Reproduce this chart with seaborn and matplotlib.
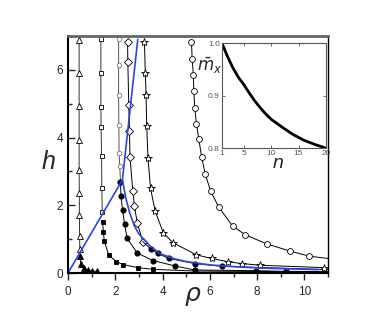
import numpy as np
import pandas as pd
import matplotlib
matplotlib.use('Agg')
import matplotlib.pyplot as plt
import seaborn as sns

# ---- data ----
tri_open_x = [0.50, 0.49, 0.48, 0.48, 0.47, 0.47, 0.47, 0.47, 0.47]
tri_open_h = [0.70, 1.10, 1.72, 2.37, 3.05, 3.94, 4.92, 5.90, 6.88]

tri_fill_x = [0.50, 0.55, 0.68, 0.85, 1.00, 1.23]
tri_fill_h = [0.50, 0.26, 0.14, 0.08, 0.06, 0.05]

sq_open_x = [1.45, 1.43, 1.42, 1.40, 1.39, 1.39, 1.39]
sq_open_h = [1.79, 2.50, 3.46, 4.30, 4.90, 5.90, 6.90]

sq_fill_x = [1.46, 1.50, 1.53, 1.72, 2.05, 2.34, 2.95, 3.59, 5.36, 11.0]
sq_fill_h = [1.52, 1.20, 0.96, 0.53, 0.33, 0.25, 0.16, 0.11, 0.06, 0.03]

circ_small_x = [2.22, 2.19, 2.16, 2.15, 2.14, 2.14, 2.14]
circ_small_h = [2.69, 3.15, 3.54, 4.38, 5.25, 6.13, 6.90]

dot_a_x = [2.22, 2.24, 2.31, 2.39, 2.50, 2.93, 3.59, 4.52, 5.36, 7.94, 9.20, 11.0]
dot_a_h = [2.69, 2.27, 1.85, 1.46, 1.02, 0.59, 0.37, 0.21, 0.09, 0.07, 0.05, 0.04]

diam_x = [2.52, 2.53, 2.57, 2.60, 2.62, 2.74, 2.81, 2.93, 3.16]
diam_h = [6.83, 6.23, 4.96, 4.19, 3.44, 2.42, 1.97, 1.48, 0.93]

dot_b_x = [3.16, 3.52, 3.80, 4.27, 5.36, 6.50, 11.0]
dot_b_h = [0.93, 0.70, 0.58, 0.43, 0.28, 0.20, 0.10]

star_x = [3.23, 3.27, 3.30, 3.33, 3.38, 3.49, 3.69, 4.03, 4.43, 5.42, 6.07,
          6.78, 7.35, 8.13, 10.82]
star_h = [6.83, 5.90, 5.27, 4.33, 3.41, 2.50, 1.82, 1.19, 0.90, 0.54, 0.43,
          0.33, 0.28, 0.23, 0.16]

circ_big_x = [5.22, 5.25, 5.30, 5.32, 5.36, 5.43, 5.53, 5.65, 5.80, 6.03, 6.38,
              6.96, 7.49, 8.41, 9.38, 10.19, 11.0]
circ_big_h = [6.83, 6.33, 5.85, 5.37, 4.88, 4.41, 3.96, 3.43, 2.93, 2.42, 1.94,
              1.39, 1.13, 0.86, 0.65, 0.50, 0.43]

blue_up_x = [0.0, 2.30, 2.95]
blue_up_h = [0.0, 2.75, 6.90]
blue_dn_x = [2.30, 2.45, 2.60, 2.80, 3.00, 3.20, 3.50, 3.90, 4.50, 5.00, 6.00,
             7.00, 8.00, 9.00, 10.60]
blue_dn_h = [2.75, 2.20, 1.80, 1.40, 1.15, 1.00, 0.78, 0.57, 0.42, 0.34, 0.24,
             0.19, 0.15, 0.13, 0.10]

inset_n = [1, 2, 3, 4, 5, 6, 7, 8, 9, 10, 12, 14, 16, 18, 20]
inset_m = [1.0, 0.975, 0.953, 0.935, 0.921, 0.905, 0.89, 0.877, 0.865, 0.855,
           0.84, 0.826, 0.815, 0.807, 0.80]

sns.set_style('ticks')
plt.rcParams['font.family'] = ['Liberation Sans', 'DejaVu Sans']

fig = plt.figure(figsize=(3.82, 3.27), dpi=100)
ax = fig.add_axes([0.178, 0.165, 0.681, 0.725])


def series(x, y, marker, face, edge='black', ms=4, lc='black', lw=0.7, tail=False):
    n = len(x)
    mev = list(range(n - 1)) if tail else None
    sns.lineplot(x=x, y=y, ax=ax, sort=False, estimator=None, color=lc, lw=lw,
                 marker=marker, markersize=ms, markerfacecolor=face,
                 markeredgecolor=edge, markeredgewidth=0.6, markevery=mev)


series(tri_open_x, tri_open_h, '^', 'white', ms=4.2, lc='#333333')
series(tri_fill_x, tri_fill_h, '^', 'black', ms=3.8)
series(sq_open_x, sq_open_h, 's', 'white', ms=2.5, lc='#333333')
series(sq_fill_x, sq_fill_h, 's', 'black', ms=3.3, tail=True)
series(circ_small_x, circ_small_h, 'o', 'white', edge='#777777', ms=3.3, lc='#555555')
series(dot_a_x, dot_a_h, 'o', 'black', ms=3.8, tail=True)
series(diam_x, diam_h, 'D', 'white', ms=3.6)
series(dot_b_x[1:], dot_b_h[1:], 'o', 'black', ms=3.8, tail=True)
sns.lineplot(x=dot_b_x[:2], y=dot_b_h[:2], ax=ax, sort=False, estimator=None,
             color='black', lw=0.7)
series(star_x, star_h, '*', 'white', ms=6)
series(circ_big_x, circ_big_h, 'o', 'white', ms=4.2, tail=True)

sns.lineplot(x=blue_up_x, y=blue_up_h, ax=ax, sort=False, estimator=None,
             color='#2b44e6', lw=1.2)
sns.lineplot(x=blue_dn_x, y=blue_dn_h, ax=ax, sort=False, estimator=None,
             color='#2b44e6', lw=1.2)

ax.set_xlim(0, 11)
ax.set_ylim(0, 7)
ax.set_xticks([0, 2, 4, 6, 8, 10])
ax.set_xticks([1, 3, 5, 7, 9, 11], minor=True)
ax.set_yticks([0, 2, 4, 6])
ax.set_yticks([1, 3, 5, 7], minor=True)
ax.tick_params(axis='x', which='major', direction='out', length=5, width=1,
               labelsize=8.5, pad=4)
ax.tick_params(axis='x', which='minor', direction='out', length=3, width=1)
ax.tick_params(axis='y', which='major', direction='in', length=5, width=1,
               labelsize=8.5)
ax.tick_params(axis='y', which='minor', direction='in', length=3, width=1)
ax.set_xlabel('')
ax.set_ylabel('')
for s in ['left', 'bottom']:
    ax.spines[s].set_linewidth(1.5)
    ax.spines[s].set_color('black')
ax.spines['right'].set_visible(True)
ax.spines['right'].set_linewidth(1.0)
ax.spines['right'].set_color('black')
ax.spines['top'].set_visible(True)
ax.spines['top'].set_linewidth(2.0)
ax.spines['top'].set_color('#666666')

ax.text(-0.075, 0.47, 'h', transform=ax.transAxes, fontsize=18,
        fontstyle='italic', ha='center', va='center')
ax.text(0.48, -0.095, r'$\rho$', transform=ax.transAxes, fontsize=18,
        ha='center', va='center')

# ---- inset ----
axi = fig.add_axes([0.581, 0.547, 0.272, 0.321])
sns.lineplot(x=inset_n, y=inset_m, ax=axi, color='black', lw=2)
axi.set_xlim(1, 20)
axi.set_ylim(0.8, 1.0)
axi.set_xticks([1, 5, 10, 15, 20])
axi.set_yticks([0.8, 0.9, 1.0])
axi.set_yticklabels(['0.8', '0.9', '1.0'])
axi.tick_params(direction='in', length=2, width=0.6, labelsize=6,
                colors='#555555', pad=1.5, top=True, right=True)
for s in axi.spines.values():
    s.set_visible(True)
    s.set_linewidth(0.8)
    s.set_color('#555555')
axi.set_xlabel('')
axi.set_ylabel('')
axi.text(0.54, -0.15, 'n', transform=axi.transAxes, fontsize=14,
         fontstyle='italic', ha='center', va='center')
axi.text(-0.12, 0.78, r'$\bar{m}_x$', transform=axi.transAxes, fontsize=12,
         ha='center', va='center')

fig.savefig('out.png', dpi=100)
